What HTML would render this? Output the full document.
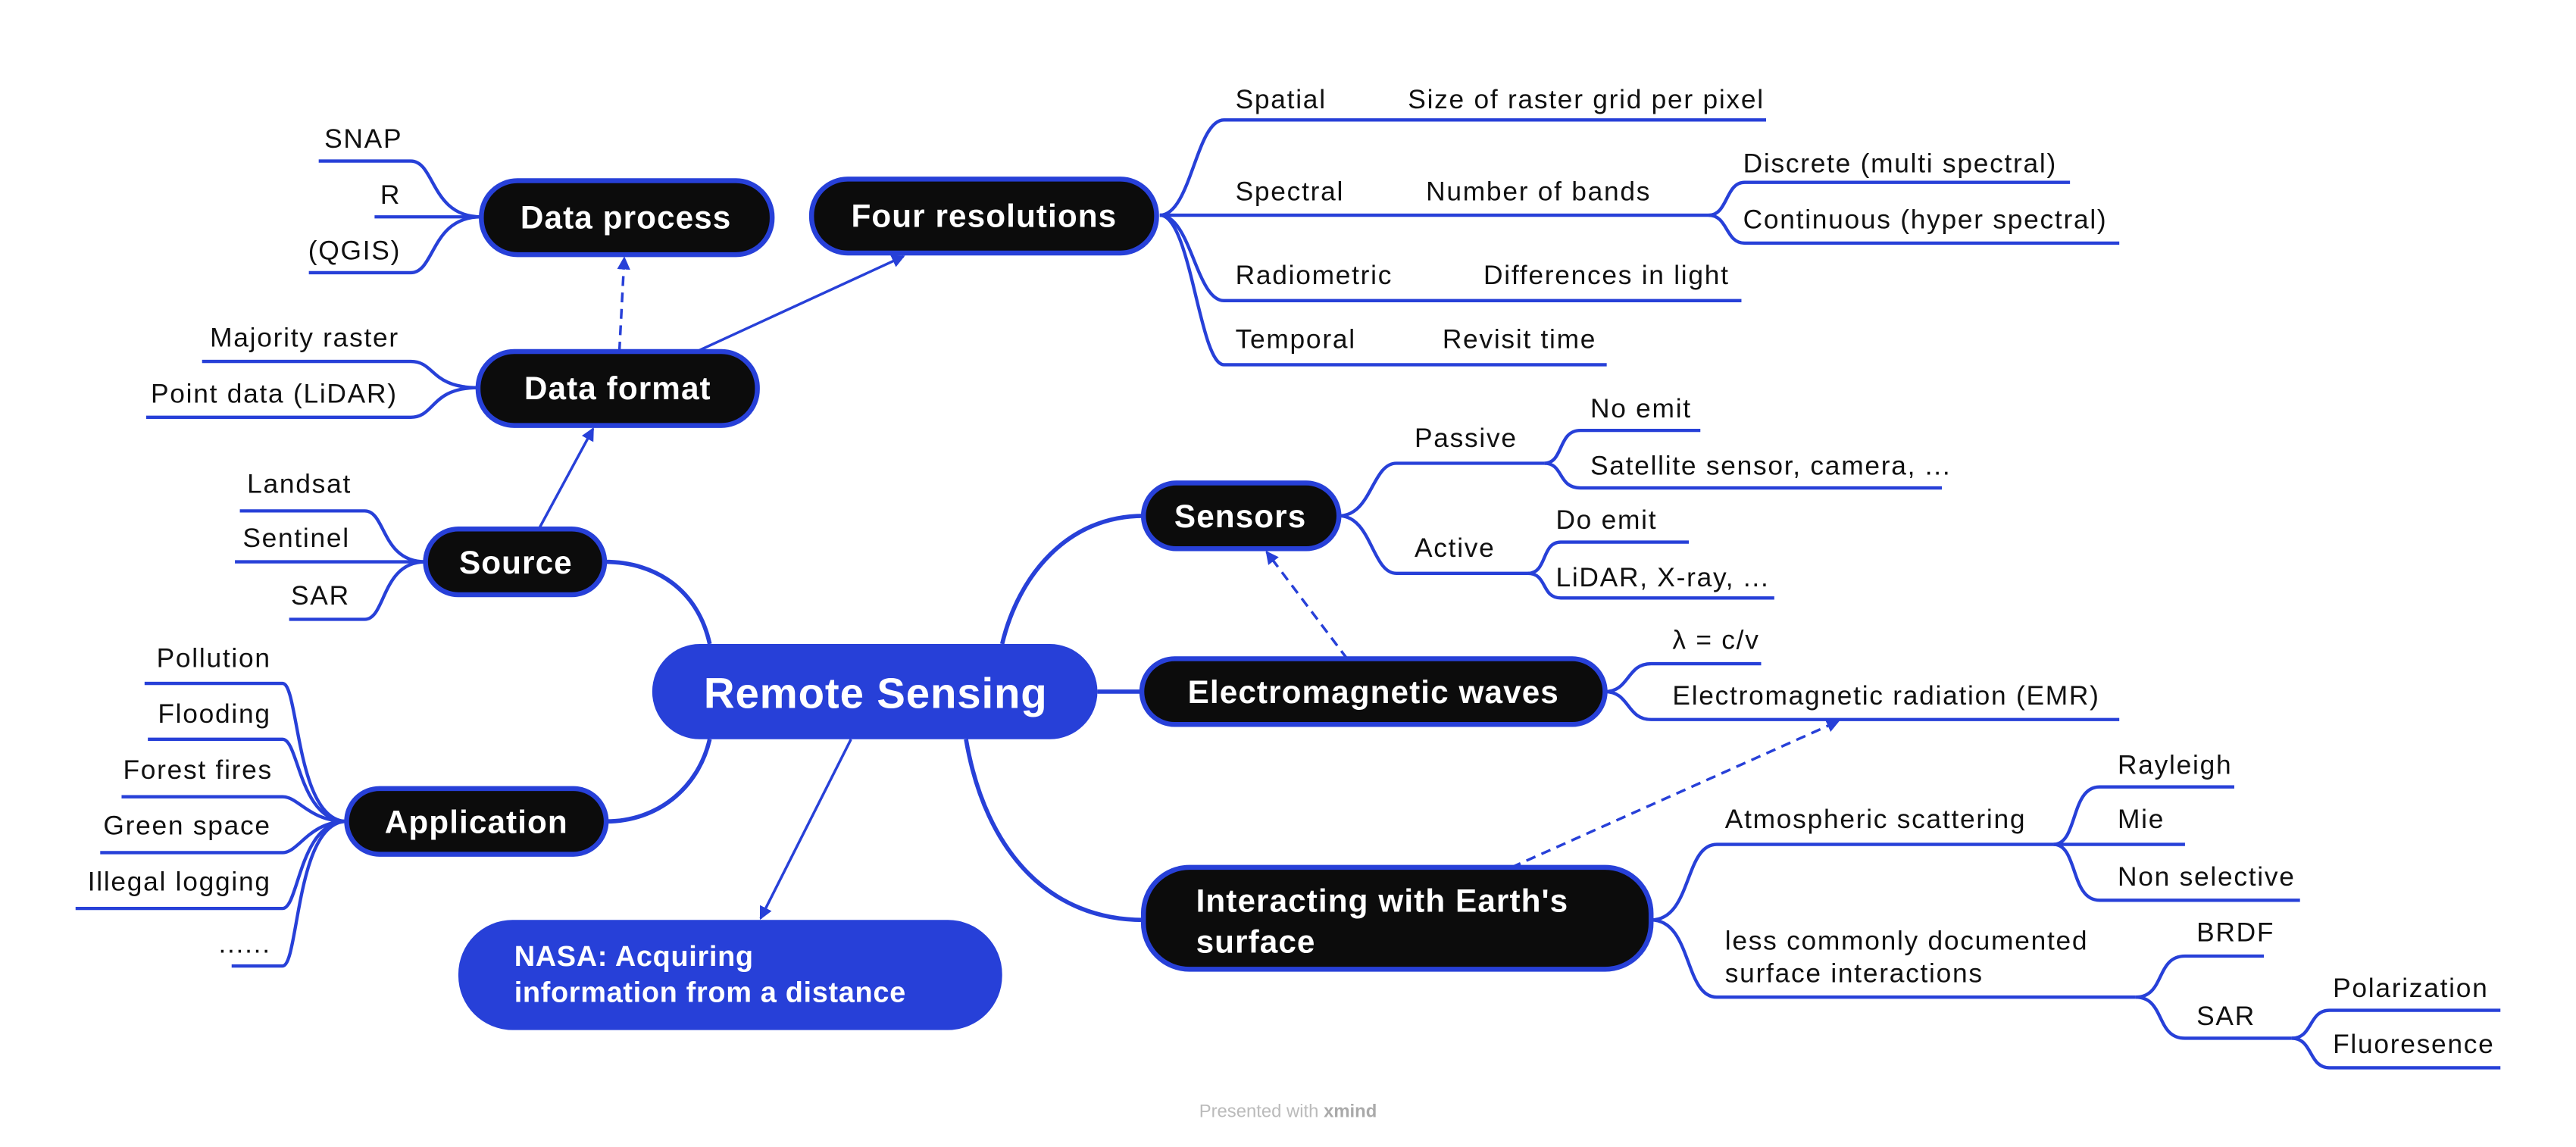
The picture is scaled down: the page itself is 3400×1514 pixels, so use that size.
<!DOCTYPE html>
<html><head><meta charset="utf-8"><style>
html,body{margin:0;padding:0;background:#fff;}
svg{display:block;}
text{font-family:"Liberation Sans",sans-serif;}
.l{font-size:16.3px;fill:#111;letter-spacing:0.8px;}
.n{font-size:19.5px;font-weight:bold;fill:#fff;letter-spacing:0.5px;}
.ln{stroke:#2740d8;stroke-width:2;fill:none;}
.mc{stroke:#2740d8;stroke-width:2.6;fill:none;}
.ar{stroke:#2740d8;stroke-width:1.6;fill:none;}
.node{fill:#0c0c0c;stroke:#2740d8;stroke-width:3;}
</style></head><body>
<svg width="3400" height="1514" viewBox="0 0 1568 698.2" xmlns="http://www.w3.org/2000/svg">
<defs><marker id="a" markerWidth="8" markerHeight="8" refX="7" refY="4" orient="auto" markerUnits="userSpaceOnUse"><path d="M0,0 L8,4 L0,8 z" fill="#2740d8"/></marker></defs>

<path class="mc" d="M432,392 C425,360 400,342 368,342"/>
<path class="mc" d="M432,450 C425,480 400,500 369,500"/>
<path class="mc" d="M610,392 C620,350 650,314 696,314"/>
<path class="mc" d="M668,421 L695,421"/>
<path class="mc" d="M588,450 C600,520 640,560 696,560"/>
<path class="ar" d="M518,450 L463,559" marker-end="url(#a)"/>
<path class="ar" d="M328,322 L361,261" marker-end="url(#a)"/>
<path class="ar" d="M424,214 L550,156" marker-end="url(#a)"/>
<path class="ar" d="M377,214 L380,157" stroke-dasharray="6,4" marker-end="url(#a)"/>
<path class="ar" d="M820,401 L771,336" stroke-dasharray="6,4" marker-end="url(#a)"/>
<path class="ar" d="M920,528 L1119,439" stroke-dasharray="6,4" marker-end="url(#a)"/>

<path class="ln" d="M194,98 H250 C265,98 262,132 293,132"/>
<path class="ln" d="M228,132 H293"/>
<path class="ln" d="M188,166 H250 C265,166 262,132 293,132"/>
<text class="l" x="245" y="90" text-anchor="end">SNAP</text>
<text class="l" x="244" y="124" text-anchor="end">R</text>
<text class="l" x="244" y="158" text-anchor="end">(QGIS)</text>

<path class="ln" d="M123,220 H250 C265,220 262,236 291,236"/>
<path class="ln" d="M89,254 H250 C265,254 262,236 291,236"/>
<text class="l" x="243" y="211" text-anchor="end">Majority raster</text>
<text class="l" x="242" y="245" text-anchor="end">Point data (LiDAR)</text>

<path class="ln" d="M146,311 H222 C235,311 232,342 259,342"/>
<path class="ln" d="M143,342 H259"/>
<path class="ln" d="M176,377 H222 C235,377 232,342 259,342"/>
<text class="l" x="214" y="300" text-anchor="end">Landsat</text>
<text class="l" x="213" y="333" text-anchor="end">Sentinel</text>
<text class="l" x="213" y="368" text-anchor="end">SAR</text>

<path class="ln" d="M88,416 H172 C182,416 180,500 211,500"/>
<path class="ln" d="M90,450 H172 C182,450 182,500 211,500"/>
<path class="ln" d="M74,485 H172 C182,485 188,500 211,500"/>
<path class="ln" d="M61,519 H172 C182,519 188,500 211,500"/>
<path class="ln" d="M46,553 H172 C182,553 182,500 211,500"/>
<path class="ln" d="M141,588 H172 C182,588 180,500 211,500"/>
<text class="l" x="165" y="406" text-anchor="end">Pollution</text>
<text class="l" x="165" y="440" text-anchor="end">Flooding</text>
<text class="l" x="166" y="474" text-anchor="end">Forest fires</text>
<text class="l" x="165" y="508" text-anchor="end">Green space</text>
<text class="l" x="165" y="542" text-anchor="end">Illegal logging</text>
<text class="l" x="165" y="580" text-anchor="end">......</text>

<path class="ln" d="M706,131 C725,131 728,73 745,73 H1075"/>
<path class="ln" d="M706,131 H1040"/>
<path class="ln" d="M706,131 C725,131 728,183 745,183 H1060"/>
<path class="ln" d="M706,131 C725,131 730,222 745,222 H978"/>
<path class="ln" d="M1040,131 C1052,131 1050,111 1062,111 H1260"/>
<path class="ln" d="M1040,131 C1052,131 1050,148 1062,148 H1290"/>
<text class="l" x="752" y="66">Spatial</text>
<text class="l" x="857" y="66">Size of raster grid per pixel</text>
<text class="l" x="752" y="122">Spectral</text>
<text class="l" x="868" y="122">Number of bands</text>
<text class="l" x="1061" y="105">Discrete (multi spectral)</text>
<text class="l" x="1061" y="139">Continuous (hyper spectral)</text>
<text class="l" x="752" y="173">Radiometric</text>
<text class="l" x="903" y="173">Differences in light</text>
<text class="l" x="752" y="212">Temporal</text>
<text class="l" x="878" y="212">Revisit time</text>

<path class="ln" d="M815,314 C835,314 835,282 850,282 H940"/>
<path class="ln" d="M815,314 C835,314 835,349 850,349 H930"/>
<path class="ln" d="M940,282 C952,282 948,262 962,262 H1035"/>
<path class="ln" d="M940,282 C952,282 948,297 962,297 H1182"/>
<path class="ln" d="M930,349 C942,349 938,330 950,330 H1028"/>
<path class="ln" d="M930,349 C942,349 938,364 950,364 H1080"/>
<text class="l" x="861" y="272">Passive</text>
<text class="l" x="861" y="339">Active</text>
<text class="l" x="968" y="254">No emit</text>
<text class="l" x="968" y="289">Satellite sensor, camera, ...</text>
<text class="l" x="947" y="322">Do emit</text>
<text class="l" x="947" y="357">LiDAR, X-ray, ...</text>

<path class="ln" d="M977,421 C992,421 990,404 1005,404 H1072"/>
<path class="ln" d="M977,421 C992,421 990,438 1005,438 H1290"/>
<text class="l" x="1018" y="395">λ = c/v</text>
<text class="l" x="1018" y="429">Electromagnetic radiation (EMR)</text>

<path class="ln" d="M1005,560 C1030,560 1025,514 1045,514 H1250"/>
<path class="ln" d="M1005,560 C1030,560 1025,607 1045,607 H1300"/>
<path class="ln" d="M1250,514 C1265,514 1260,479 1278,479 H1360"/>
<path class="ln" d="M1250,514 H1330"/>
<path class="ln" d="M1250,514 C1265,514 1260,548 1278,548 H1400"/>
<path class="ln" d="M1300,607 C1318,607 1312,582 1330,582 H1378"/>
<path class="ln" d="M1300,607 C1318,607 1312,632 1330,632 H1395"/>
<path class="ln" d="M1395,632 C1408,632 1405,615 1418,615 H1522"/>
<path class="ln" d="M1395,632 C1408,632 1405,650 1418,650 H1522"/>
<text class="l" x="1050" y="504">Atmospheric scattering</text>
<text class="l" x="1050" y="578">less commonly documented</text>
<text class="l" x="1050" y="598">surface interactions</text>
<text class="l" x="1289" y="471">Rayleigh</text>
<text class="l" x="1289" y="504">Mie</text>
<text class="l" x="1289" y="539">Non selective</text>
<text class="l" x="1337" y="573">BRDF</text>
<text class="l" x="1337" y="624">SAR</text>
<text class="l" x="1420" y="607">Polarization</text>
<text class="l" x="1420" y="641">Fluoresence</text>

<rect x="397" y="392" width="271" height="58" rx="29" fill="#2740d8"/>
<text x="533" y="431" text-anchor="middle" style="font-size:26px;font-weight:bold;fill:#fff;letter-spacing:0.4px">Remote Sensing</text>

<rect class="node" x="494" y="109" width="210" height="45" rx="22"/>
<text class="n" x="599" y="138" text-anchor="middle">Four resolutions</text>
<rect class="node" x="293" y="110" width="177" height="45" rx="22"/>
<text class="n" x="381" y="139" text-anchor="middle">Data process</text>
<rect class="node" x="291" y="214" width="170" height="45" rx="22"/>
<text class="n" x="376" y="243" text-anchor="middle">Data format</text>
<rect class="node" x="259" y="322" width="109" height="40" rx="20"/>
<text class="n" x="314" y="349" text-anchor="middle">Source</text>
<rect class="node" x="211" y="480" width="158" height="40" rx="20"/>
<text class="n" x="290" y="507" text-anchor="middle">Application</text>
<rect class="node" x="696" y="294" width="119" height="40" rx="20"/>
<text class="n" x="755" y="321" text-anchor="middle">Sensors</text>
<rect class="node" x="695" y="401" width="282" height="40" rx="20"/>
<text class="n" x="836" y="428" text-anchor="middle">Electromagnetic waves</text>
<rect class="node" x="696" y="528" width="309" height="62" rx="28"/>
<text class="n" x="728" y="555">Interacting with Earth's</text>
<text class="n" x="728" y="580">surface</text>

<rect x="279" y="560" width="331" height="67" rx="33" fill="#2740d8"/>
<text x="313" y="588" style="font-size:17.5px;font-weight:bold;fill:#fff;letter-spacing:0.3px">NASA: Acquiring</text>
<text x="313" y="610" style="font-size:17.5px;font-weight:bold;fill:#fff;letter-spacing:0.3px">information from a distance</text>

<text x="784" y="680" text-anchor="middle" style="font-size:11px;fill:#bbb">Presented with <tspan font-weight="bold" fill="#aaa">xmind</tspan></text>
</svg>
</body></html>
